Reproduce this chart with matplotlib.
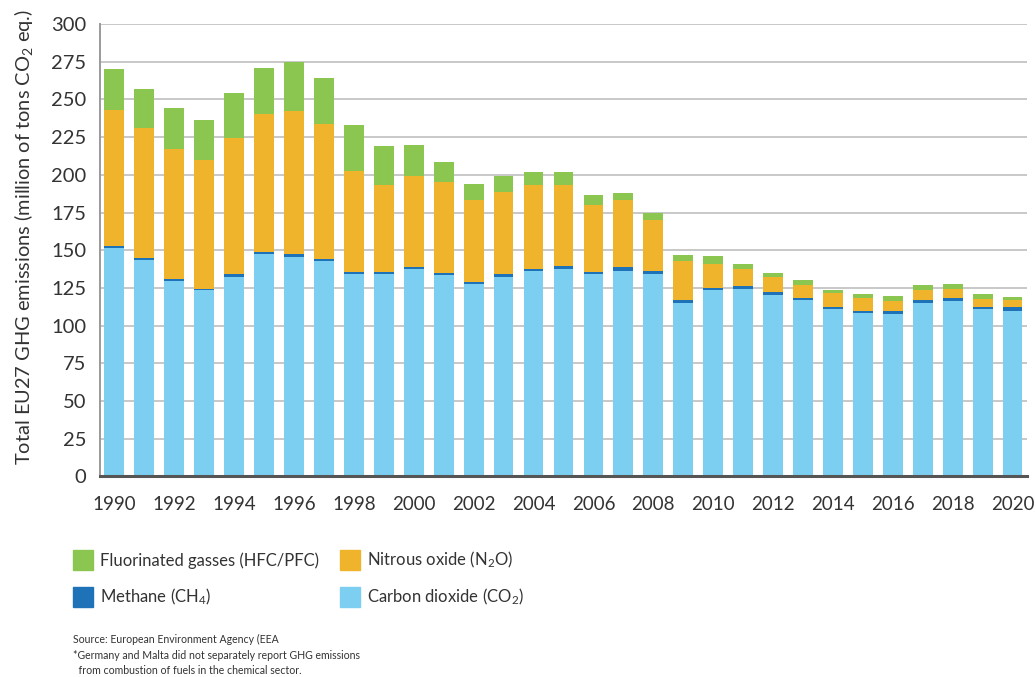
import numpy as np
import matplotlib
matplotlib.use('Agg')
import matplotlib.pyplot as plt
from matplotlib.patches import Patch

# =======================================================================================
years = np.arange(1990, 2021)

co2 = [151.5, 143.5, 129.5, 123.3, 132.4, 147.5, 145.8, 142.9, 134.0, 134.0,
       137.3, 133.3, 127.5, 132.4, 136.0, 137.3, 134.2, 136.4, 134.4, 114.8,
       123.5, 124.4, 120.4, 116.7, 110.8, 108.4, 107.7, 114.8, 116.4, 110.8, 110.0]
ch4 = [1.6, 1.6, 1.6, 1.1, 1.6, 1.2, 1.5, 1.5, 1.5, 1.5,
       1.5, 1.5, 1.6, 1.6, 1.5, 2.4, 1.5, 2.5, 1.6, 1.9,
       1.6, 1.6, 1.6, 1.7, 1.8, 1.6, 1.8, 1.9, 1.8, 1.8, 2.6]
n2o = [89.8, 85.7, 86.2, 85.5, 90.6, 91.7, 94.9, 89.6, 67.3, 57.7,
       60.2, 60.2, 54.3, 54.5, 55.7, 53.4, 44.5, 44.6, 34.0, 26.0,
       16.0, 11.8, 10.4, 8.3, 8.7, 8.0, 6.9, 6.8, 6.0, 5.1, 4.7]
fgas = [27.1, 25.9, 27.1, 26.7, 29.4, 30.5, 32.3, 30.4, 30.5, 25.6,
        20.5, 13.3, 10.7, 10.5, 8.9, 8.9, 6.5, 4.7, 4.9, 4.0,
        4.9, 3.3, 2.5, 3.3, 2.0, 3.0, 3.1, 3.2, 3.6, 3.3, 1.4]

yticks = np.arange(0, 301, 25)

# Colours
c_co2 = '#7dcff1'
c_ch4 = '#1d72b8'
c_n2o = '#f0b32c'
c_fgas = '#8bc750'

TF = 13.5   # x tick font
YTF = 14.5  # y tick font
LBF = 14.4  # y label font
LGF = 12    # legend font
SF = 7.6    # source font
plt.rcParams['font.family'] = ['Lato', 'DejaVu Sans']
plt.rcParams['mathtext.fontset'] = 'custom'
plt.rcParams['mathtext.rm'] = 'Lato'
plt.rcParams['mathtext.it'] = 'Lato'
# =======================================================================================

fig = plt.figure(figsize=(10.36, 6.77), dpi=100)
ax = fig.add_axes([0.0965, 0.2963, 0.8948, 0.6682])

x = np.arange(len(years))
w = 0.66
co2 = np.array(co2)
ch4 = np.array(ch4)
n2o = np.array(n2o)
fgas = np.array(fgas)

ax.bar(x, co2, w, color=c_co2, zorder=3)
ax.bar(x, ch4, w, bottom=co2, color=c_ch4, zorder=3)
ax.bar(x, n2o, w, bottom=co2 + ch4, color=c_n2o, zorder=3)
ax.bar(x, fgas, w, bottom=co2 + ch4 + n2o, color=c_fgas, zorder=3)

ax.set_xlim(-0.48, len(years) - 1 + 0.48)
ax.set_ylim(0, 300)
ax.set_yticks(yticks)
ax.set_xticks(x[::2])
ax.set_xticklabels([str(y) for y in years[::2]])
ax.grid(axis='y', color='#c8c8c8', lw=1.4, zorder=0)
ax.tick_params(axis='both', length=0, colors='#333333')
ax.tick_params(axis='x', pad=14, labelsize=TF)
ax.tick_params(axis='y', pad=10, labelsize=YTF)

for s in ['top', 'right']:
    ax.spines[s].set_visible(False)
ax.spines['left'].set_color('#9a9a9a')
ax.spines['left'].set_linewidth(1.4)
ax.spines['bottom'].set_color('#555555')
ax.spines['bottom'].set_linewidth(2.2)
ax.spines['bottom'].set_zorder(4)

fig.text(24 / 1036, 1 - 237 / 677,
         'Total EU27 GHG emissions (million of tons CO$_2$ eq.)',
         rotation=90, ha='center', va='center', fontsize=LBF, color='#333333')

# Legend (two columns placed separately)
handles1 = [Patch(color=c_fgas, label='Fluorinated gasses (HFC/PFC)'),
            Patch(color=c_ch4, label='Methane (CH$_4$)')]
handles2 = [Patch(color=c_n2o, label='Nitrous oxide (N$_2$O)'),
            Patch(color=c_co2, label='Carbon dioxide (CO$_2$)')]
lg_kw = dict(frameon=False, fontsize=LGF, loc='upper left', borderpad=0,
             borderaxespad=0, handlelength=1.2, handleheight=1.5,
             handletextpad=0.4, labelspacing=1.0, labelcolor='#333333')
lg1 = fig.legend(handles=handles1, bbox_to_anchor=(73 / 1036, 1 - 550 / 677), **lg_kw)
lg2 = fig.legend(handles=handles2, bbox_to_anchor=(340 / 1036, 1 - 550 / 677), **lg_kw)

fig.text(73 / 1036, 1 - 634 / 677,
         'Source: European Environment Agency (EEA\n'
         '*Germany and Malta did not separately report GHG emissions\n'
         '  from combustion of fuels in the chemical sector.',
         ha='left', va='top', fontsize=SF, color='#333333', linespacing=1.5)

fig.savefig('out.png', dpi=100)
